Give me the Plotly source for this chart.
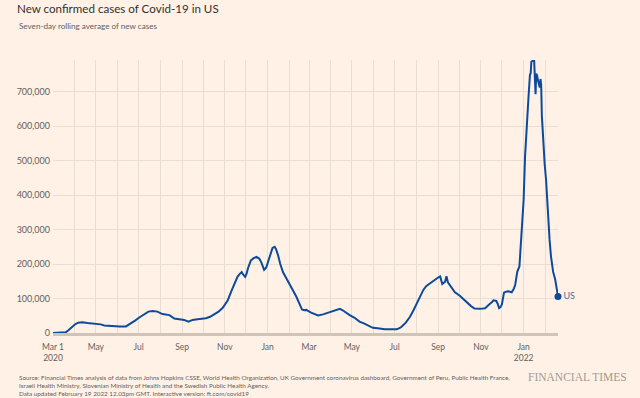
import plotly.graph_objects as go

# ---- data (7-day rolling average of new cases, US) ----
dates = [
    "2020-03-01", "2020-03-11", "2020-03-19", "2020-03-23", "2020-03-28", "2020-04-02", "2020-04-06",
    "2020-04-12", "2020-04-19", "2020-04-26", "2020-05-03", "2020-05-08", "2020-05-13", "2020-05-20",
    "2020-05-27", "2020-06-04", "2020-06-13", "2020-06-20", "2020-06-26", "2020-07-02", "2020-07-08",
    "2020-07-15", "2020-07-21", "2020-07-28", "2020-08-04", "2020-08-10", "2020-08-14", "2020-08-21",
    "2020-08-28", "2020-09-04", "2020-09-10", "2020-09-16", "2020-09-23", "2020-09-29", "2020-10-05",
    "2020-10-11", "2020-10-17", "2020-10-23", "2020-10-29", "2020-11-05", "2020-11-10", "2020-11-15",
    "2020-11-19", "2020-11-22", "2020-11-25", "2020-11-27", "2020-11-30", "2020-12-02", "2020-12-04",
    "2020-12-08", "2020-12-12", "2020-12-16", "2020-12-20", "2020-12-23", "2020-12-25", "2020-12-27",
    "2020-12-30", "2021-01-02", "2021-01-05", "2021-01-08", "2021-01-11", "2021-01-13", "2021-01-16",
    "2021-01-19", "2021-01-23", "2021-01-27", "2021-02-01", "2021-02-06", "2021-02-11", "2021-02-16",
    "2021-02-19", "2021-02-22", "2021-02-25", "2021-03-04", "2021-03-09", "2021-03-14", "2021-03-21",
    "2021-03-27", "2021-04-02", "2021-04-08", "2021-04-14", "2021-04-18", "2021-04-23", "2021-04-28",
    "2021-05-05", "2021-05-12", "2021-05-19", "2021-05-26", "2021-05-31", "2021-06-07", "2021-06-17",
    "2021-06-26", "2021-07-04", "2021-07-08", "2021-07-11", "2021-07-17", "2021-07-23", "2021-07-28",
    "2021-08-02", "2021-08-07", "2021-08-11", "2021-08-15", "2021-08-20", "2021-08-26", "2021-09-01",
    "2021-09-04", "2021-09-06", "2021-09-07", "2021-09-11", "2021-09-13", "2021-09-15", "2021-09-19",
    "2021-09-25", "2021-10-02", "2021-10-08", "2021-10-12", "2021-10-18", "2021-10-23", "2021-10-31",
    "2021-11-07", "2021-11-11", "2021-11-14", "2021-11-17", "2021-11-19", "2021-11-23", "2021-11-25",
    "2021-11-27", "2021-11-29", "2021-12-01", "2021-12-04", "2021-12-07", "2021-12-10", "2021-12-15",
    "2021-12-18", "2021-12-20", "2021-12-23", "2021-12-26", "2021-12-29", "2022-01-01", "2022-01-03",
    "2022-01-06", "2022-01-08", "2022-01-10", "2022-01-11", "2022-01-12", "2022-01-14", "2022-01-16",
    "2022-01-17", "2022-01-18", "2022-01-19", "2022-01-20", "2022-01-22", "2022-01-24", "2022-01-25",
    "2022-01-26", "2022-01-27", "2022-01-29", "2022-01-31", "2022-02-02", "2022-02-05", "2022-02-07",
    "2022-02-09", "2022-02-12", "2022-02-15", "2022-02-19",
]
cases = [
    0, 500, 2000, 8000, 18000, 26000, 30000,
    31000, 29000, 28000, 27000, 25000, 22000, 21000,
    19000, 19000, 19000, 27000, 36000, 45000, 54000,
    62000, 64000, 62000, 55000, 54000, 52000, 42000,
    40000, 38000, 33000, 38000, 40000, 41000, 43000,
    47000, 54000, 62000, 73000, 94000, 120000, 145000,
    163000, 171000, 177000, 170000, 163000, 172000, 188000,
    210000, 217000, 221000, 216000, 205000, 190000, 183000,
    190000, 210000, 232000, 247000, 250000, 243000, 225000,
    200000, 176000, 160000, 144000, 124000, 105000, 82000,
    68000, 66000, 67000, 59000, 54000, 51000, 54000,
    58000, 64000, 67000, 70000, 66000, 58000, 52000,
    44000, 33000, 27000, 21000, 15000, 14000, 11000,
    11000, 11000, 14000, 18000, 30000, 47000, 66000,
    86000, 107000, 125000, 136000, 144000, 153000, 161000,
    164000, 150000, 142000, 149000, 165000, 147000, 135000,
    118000, 108000, 96000, 87000, 78000, 71000, 70000,
    72000, 78000, 85000, 90000, 95000, 93000, 85000,
    72000, 75000, 83000, 117000, 120000, 121000, 118000,
    128000, 140000, 178000, 193000, 309000, 386000, 511000,
    599000, 686000, 749000, 753000, 787000, 790000, 790000,
    744000, 693000, 752000, 748000, 728000, 712000, 737000,
    720000, 630000, 541000, 490000, 444000, 318000, 270000,
    222000, 178000, 155000, 106000,
]
series_name = "US"

month_ticks = [
    "2020-03-01", "2020-04-01", "2020-05-01", "2020-06-01", "2020-07-01", "2020-08-01",
    "2020-09-01", "2020-10-01", "2020-11-01", "2020-12-01", "2021-01-01", "2021-02-01",
    "2021-03-01", "2021-04-01", "2021-05-01", "2021-06-01", "2021-07-01", "2021-08-01",
    "2021-09-01", "2021-10-01", "2021-11-01", "2021-12-01", "2022-01-01", "2022-02-01",
]
month_labels = [
    "Mar 1<br>2020", "", "May", "", "Jul", "", "Sep", "", "Nov", "", "Jan", "",
    "Mar", "", "May", "", "Jul", "", "Sep", "", "Nov", "", "Jan<br>2022", "",
]
y_ticks = [0, 100000, 200000, 300000, 400000, 500000, 600000, 700000]

title = "New confirmed cases of Covid-19 in US"
subtitle = "Seven-day rolling average of new cases"
source = ("Source: Financial Times analysis of data from Johns Hopkins CSSE, World Health Organization, "
          "UK Government coronavirus dashboard, Government of Peru, Public Health France,<br>"
          "Israeli Health Ministry, Slovenian Ministry of Health and the Swedish Public Health Agency.<br>"
          "Data updated February 19 2022 12.03pm GMT. Interactive version: ft.com/covid19")

BG = "#FFF1E5"
LINE = "#0D4A9B"
GRID = "#EADDD1"
TEXT = "#66605C"
FONT = "Lato"

fig = go.Figure()
fig.add_trace(go.Scatter(x=dates, y=cases, mode="lines",
                         line=dict(color=LINE, width=2), hoverinfo="skip", showlegend=False))
fig.add_trace(go.Scatter(x=[dates[-1]], y=[cases[-1]], mode="markers+text",
                         marker=dict(color=LINE, size=7), text=[series_name],
                         textposition="middle right", textfont=dict(color="#4C6EA3", size=9, family=FONT),
                         cliponaxis=False, showlegend=False, hoverinfo="skip"))

fig.update_layout(
    width=640, height=398,
    paper_bgcolor=BG, plot_bgcolor=BG,
    margin=dict(l=53, r=82, t=60, b=65),
    font=dict(family=FONT, color=TEXT),
    title=dict(text=title, x=17 / 640, xanchor="left", xref="container",
               y=1 - 9 / 398, yanchor="middle", yref="container",
               font=dict(size=11.6, color="#33302E", family=FONT)),
    xaxis=dict(type="date", range=["2020-03-01", "2022-02-19"],
               tickvals=month_ticks, ticktext=month_labels,
               showgrid=True, gridcolor=GRID, gridwidth=1,
               showline=True, linecolor="#CFC4BA", linewidth=3,
               ticks="", ticklabelstandoff=4,
               tickfont=dict(size=8.5, color=TEXT, family=FONT),
               zeroline=False, fixedrange=True),
    yaxis=dict(range=[0, 792000], tickvals=y_ticks, tickformat=",",
               showgrid=True, gridcolor=GRID, gridwidth=1,
               ticks="", ticklabelstandoff=2,
               tickfont=dict(size=9, color=TEXT, family=FONT),
               zeroline=False, showline=False, fixedrange=True),
    annotations=[
        dict(text=subtitle, xref="paper", yref="paper",
             x=(17 - 53) / 505, y=(333 - 26) / 273, xanchor="left", yanchor="middle",
             showarrow=False, font=dict(size=8.1, color=TEXT, family=FONT)),
        dict(text=source, xref="paper", yref="paper", align="left",
             x=(17 - 53) / 505, y=(333 - 372) / 273, xanchor="left", yanchor="top",
             showarrow=False, font=dict(size=6.3, color=TEXT, family=FONT)),
        dict(text="FINANCIAL TIMES", xref="paper", yref="paper",
             x=(629 - 53) / 505, y=(333 - 377) / 273, xanchor="right", yanchor="middle",
             showarrow=False, font=dict(size=11.5, color="#A39A92", family="Liberation Serif")),
    ],
)

fig.write_html("out.html", config={"displayModeBar": False},
               post_script="document.body.style.margin='0px';")
